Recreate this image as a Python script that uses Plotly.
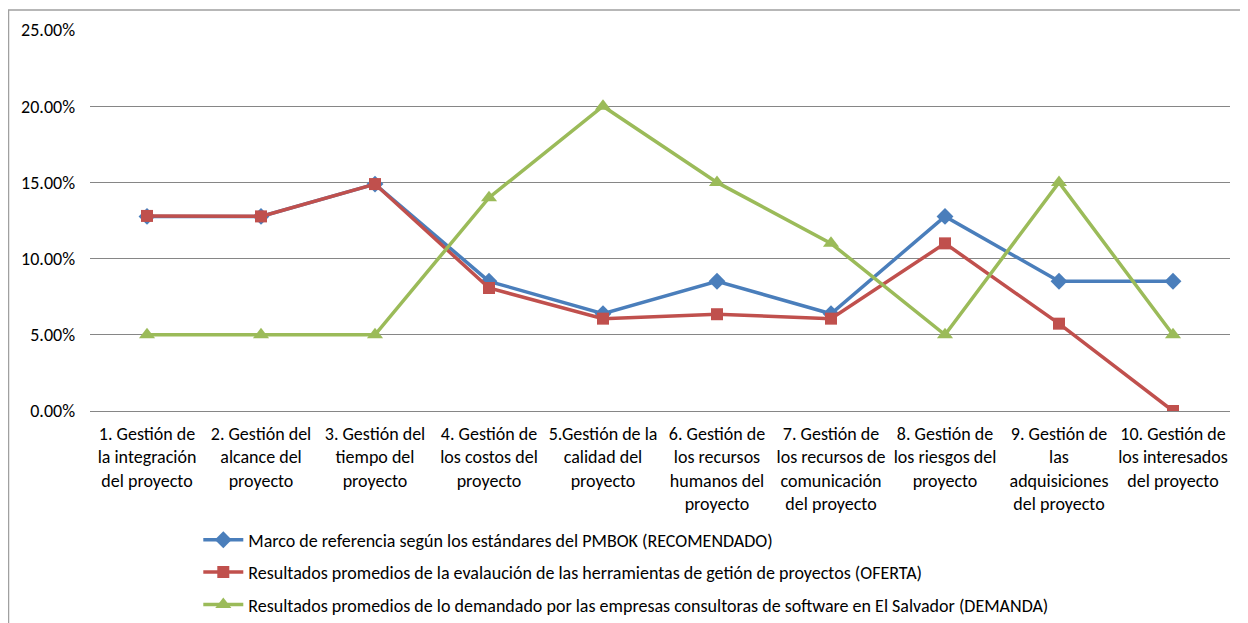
import plotly.graph_objects as go

categories = [
    "1. Gestión de<br>la integración<br>del proyecto",
    "2. Gestión del<br>alcance del<br>proyecto",
    "3. Gestión del<br>tiempo del<br>proyecto",
    "4. Gestión de<br>los costos del<br>proyecto",
    "5.Gestión de la<br>calidad del<br>proyecto",
    "6. Gestión de<br>los recursos<br>humanos del<br>proyecto",
    "7. Gestión de<br>los recursos de<br>comunicación<br>del proyecto",
    "8. Gestión de<br>los riesgos del<br>proyecto",
    "9. Gestión de<br>las<br>adquisiciones<br>del proyecto",
    "10. Gestión de<br>los interesados<br>del proyecto",
]

recomendado = [12.77, 12.77, 14.89, 8.51, 6.38, 8.51, 6.38, 12.77, 8.51, 8.51]
oferta = [12.80, 12.77, 14.89, 8.07, 6.06, 6.35, 6.06, 11.00, 5.73, 0.00]
demanda = [5, 5, 5, 14, 20, 15, 11, 5, 15, 5]

names = [
    "Marco de referencia según los estándares del PMBOK (RECOMENDADO)",
    "Resultados promedios de la evalaución de las herramientas de getión de proyectos (OFERTA)",
    "Resultados promedios de lo demandado por las empresas consultoras de software en El Salvador (DEMANDA)",
]

FONT = "Carlito, Calibri, Lato, sans-serif"
FS = 18

# The page body adds an 8px offset; figure is sized so plot area lands where the reference has it.
W, H = 1240, 615
L, R, T, B = 82, 18, 22, 212
PW, PH = W - L - R, H - T - B

fig = go.Figure()
series = [
    (recomendado, names[0], "#4A7EBB", "diamond", 13),
    (oferta, names[1], "#C0504D", "square", 12),
    (demanda, names[2], "#9BBB59", "triangle-up", 14),
]
for i, (vals, name, color, sym, size) in enumerate(series):
    fig.add_trace(go.Scatter(
        x=categories, y=vals, name=name, mode="lines+markers",
        line=dict(color=color, width=3.5),
        marker=dict(symbol=sym, size=size, color=color),
        legendgroup=f"g{i}",
    ))

fig.update_layout(
    width=W, height=H,
    margin=dict(l=L, r=R, t=T, b=B, autoexpand=False),
    paper_bgcolor="white", plot_bgcolor="white",
    font=dict(family=FONT, size=FS, color="#000000"),
    showlegend=True,
    legend=dict(
        x=0.095, y=-0.29, xanchor="left", yanchor="top",
        font=dict(family=FONT, size=FS, color="#000000"),
        tracegroupgap=6, bgcolor="rgba(0,0,0,0)", itemwidth=40,
    ),
    xaxis=dict(
        range=[-0.5, 9.5],
        showgrid=False, showline=False, zeroline=False, automargin=False,
        ticks="", tickfont=dict(family=FONT, size=FS),
        tickangle=0, ticklabelstandoff=10,
    ),
    yaxis=dict(
        range=[0, 25], dtick=5, tickformat=".2f", ticksuffix="%",
        showgrid=True, gridcolor="#868686", gridwidth=1, automargin=False,
        zeroline=True, zerolinecolor="#868686", zerolinewidth=1,
        showline=False, ticks="",
        tickfont=dict(family=FONT, size=FS),
        ticklabelstandoff=14,
    ),
    shapes=[dict(
        type="rect", xref="paper", yref="paper",
        x0=(0.5 - L) / PW, x1=(W + 20 - L) / PW,
        y0=(H - B - (H + 20)) / PH, y1=(H - B - 2) / PH,
        line=dict(color="#A0A0A0", width=1.5), layer="below",
    )],
)

fig.write_html("out.html")
